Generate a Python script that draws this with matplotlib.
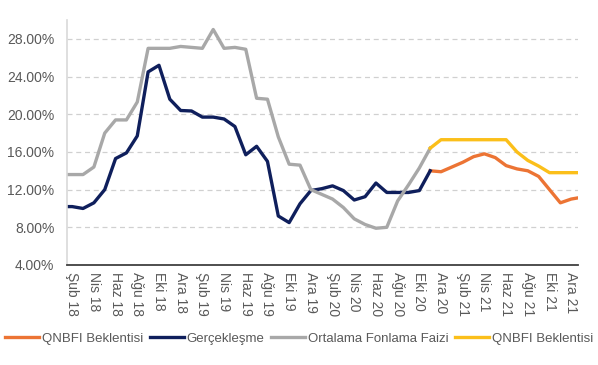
import matplotlib
matplotlib.use("Agg")
import matplotlib.pyplot as plt
import numpy as np

plt.rcParams['font.family'] = ['Liberation Sans', 'DejaVu Sans']

# months from Oca 18 to Oca 22 (first and last only partly visible)
month_names = ['Oca', 'Şub', 'Mar', 'Nis', 'May', 'Haz', 'Tem', 'Ağu', 'Eyl', 'Eki', 'Kas', 'Ara']
years = [18, 19, 20, 21, 22]
months = [f"{m} {y}" for y in years for m in month_names][:49]

# realised data, starting Oca 18
funding_rate = [13.6, 13.6, 13.6, 14.4, 18.0, 19.4, 19.4, 21.3, 27.0, 27.0, 27.0, 27.2,
                27.1, 27.0, 29.0, 27.0, 27.1, 26.9, 21.7, 21.6, 17.6, 14.7, 14.6, 12.0,
                11.5, 11.0, 10.1, 8.9, 8.3, 7.9, 8.0, 10.8, 12.5, 14.3, 16.4]
realised = [10.2, 10.2, 10.0, 10.6, 12.0, 15.3, 15.9, 17.7, 24.5, 25.2, 21.6, 20.4,
            20.35, 19.7, 19.7, 19.5, 18.7, 15.7, 16.6, 15.0, 9.2, 8.5, 10.5, 11.9,
            12.1, 12.4, 11.9, 10.9, 11.25, 12.7, 11.7, 11.7, 11.7, 11.9, 14.0]

# forecasts, starting Kas 20
forecast_start = 34
qnbfi_orange = [14.0, 13.9, 14.4, 14.9, 15.5, 15.8, 15.4, 14.55, 14.2, 14.0, 13.4, 12.0,
                10.6, 11.0, 11.2]
qnbfi_yellow = [16.4, 17.3, 17.3, 17.3, 17.3, 17.3, 17.3, 17.3, 16.0, 15.1, 14.5, 13.8,
                13.8, 13.8, 13.8]

x_all = np.arange(len(months))
x_real = x_all[:len(realised)]
x_fc = x_all[forecast_start:forecast_start + len(qnbfi_orange)]

c_orange = '#ec7434'
c_navy = '#0f1f5c'
c_gray = '#a8a8a8'
c_yellow = '#fbbf1a'
txt = '#595959'

fig = plt.figure(figsize=(5.98, 3.65), dpi=100)
ax = fig.add_axes([0.112, 0.274, 0.855, 0.671])

lw = 2.4
l_orange, = ax.plot(x_fc, qnbfi_orange, color=c_orange, lw=lw, solid_joinstyle='round')
l_navy, = ax.plot(x_real, realised, color=c_navy, lw=lw, solid_joinstyle='round')
l_gray, = ax.plot(x_real, funding_rate, color=c_gray, lw=lw, solid_joinstyle='round')
l_yellow, = ax.plot(x_fc, qnbfi_yellow, color=c_yellow, lw=lw, solid_joinstyle='round')

ax.set_xlim(0.52, 47.65)
ax.set_ylim(4, 30)

yticks = np.arange(4, 29, 4)
ax.set_yticks(yticks)
ax.set_yticklabels([f"{v:.2f}%" for v in yticks], fontsize=10, color=txt)
for v in yticks[1:]:
    ax.axhline(v, color='#d0d0d0', lw=0.9, ls=(0, (4, 3)), zorder=0)

tick_pos = list(range(1, 48, 2))
ax.set_xticks(tick_pos)
ax.set_xticklabels([months[i] for i in tick_pos], rotation=-90, fontsize=10, color=txt)
ax.tick_params(axis='x', length=0, pad=5)
ax.tick_params(axis='y', length=0, pad=9)

for side in ['top', 'right']:
    ax.spines[side].set_visible(False)
ax.spines['left'].set_color('#d9d9d9')
ax.spines['left'].set_linewidth(1.2)
ax.spines['bottom'].set_color('#404040')
ax.spines['bottom'].set_linewidth(1.3)

handles = [l_orange, l_navy, l_gray, l_yellow]
labels = ['QNBFI Beklentisi', 'Gerçekleşme', 'Ortalama Fonlama Faizi', 'QNBFI Beklentisi']
leg = fig.legend(handles, labels, loc='center', bbox_to_anchor=(0.5, 0.072), ncol=4,
                 frameon=False, fontsize=9.5, handlelength=2.6, handletextpad=0.2,
                 columnspacing=0.5, labelcolor=txt)

fig.savefig('out.png', dpi=100)
